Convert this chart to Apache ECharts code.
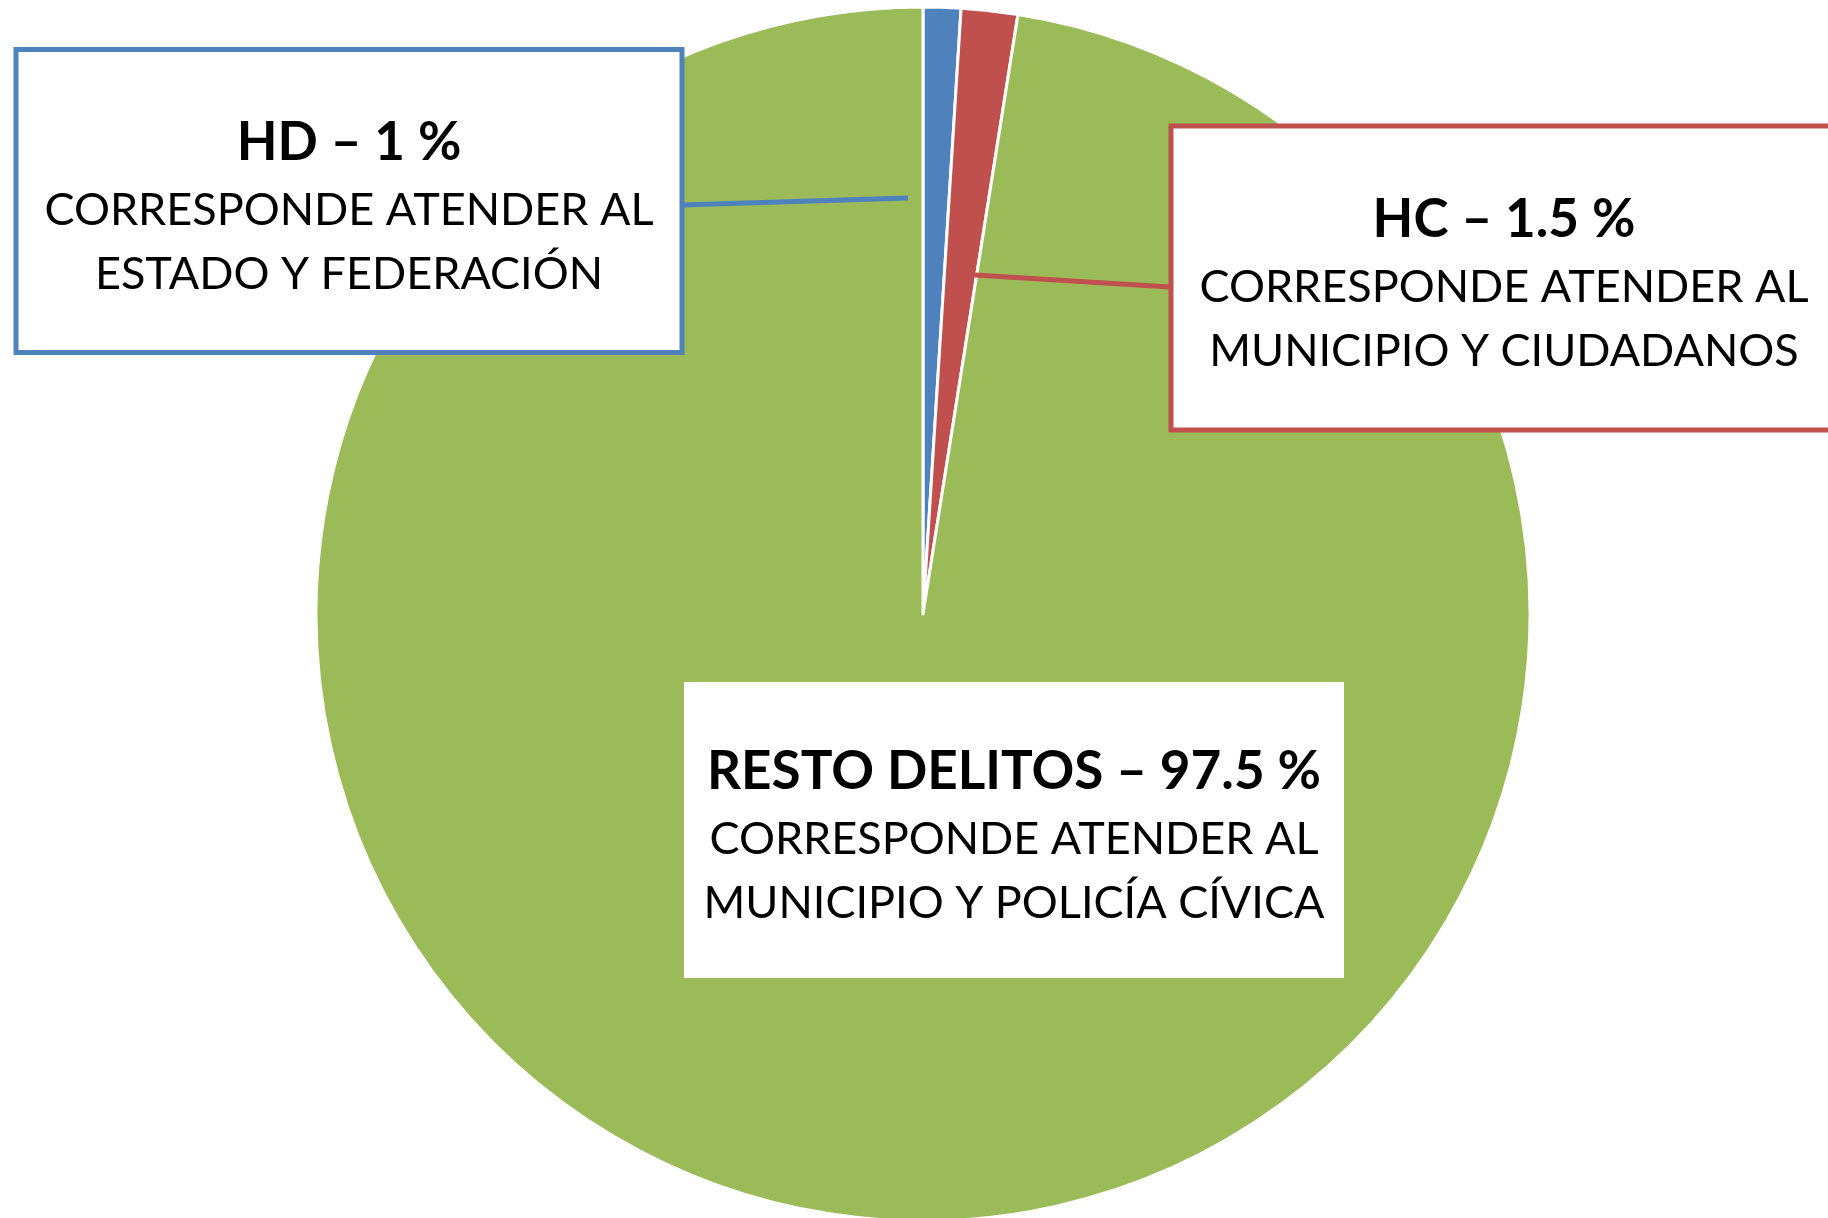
<!DOCTYPE html>
<html><head><meta charset="utf-8">
<script src="https://cdn.jsdelivr.net/npm/echarts@6/dist/echarts.min.js"></script>
<style>html,body{margin:0;padding:0;background:#fff}#c{width:1828px;height:1218px}</style>
</head><body><div id="c"></div>
<script>
const categories = ['HD', 'HC', 'RESTO DELITOS'];
const values = [1, 1.5, 97.5];
const descLine1 = ['CORRESPONDE ATENDER AL', 'CORRESPONDE ATENDER AL', 'CORRESPONDE ATENDER AL'];
const descLine2 = ['ESTADO Y FEDERACIÓN', 'MUNICIPIO Y CIUDADANOS', 'MUNICIPIO Y POLICÍA CÍVICA'];
const colors = ['#4F81BD', '#C0504D', '#9BBB59'];

// annotation box layout (pixel positions of the callout boxes and their leader lines)
const boxes = [
  {cx: 349, cy: 201, w: 666, h: 303, border: 5, line: [[908, 198], [682, 205]]},
  {cx: 1504, cy: 278, w: 666, h: 304, border: 5, line: [[975, 275], [1170, 287]]},
  {cx: 1014, cy: 830, w: 660, h: 296, border: 0, line: null}
];
const contentH = 70 + 64 + 64;

const chart = echarts.init(document.getElementById('c'), null, {renderer: 'canvas'});
const data = categories.map((name, i) => {
  const b = boxes[i];
  const padY = (b.h - contentH) / 2 - b.border / 2;
  return {
    name: name,
    value: values[i],
    itemStyle: {color: colors[i]},
    label: {
      borderColor: colors[i],
      borderWidth: b.border,
      padding: [padY + 6, 10, padY - 6, 10],
      width: b.w - 20 - b.border
    }
  };
});

const graphics = boxes.filter(b => b.line).map(b => ({
  type: 'polyline',
  z: 3,
  silent: true,
  shape: {points: b.line},
  style: {stroke: colors[boxes.indexOf(b)], lineWidth: 5, fill: null}
}));

chart.setOption({
  backgroundColor: '#ffffff',
  animation: false,
  graphic: graphics,
  series: [{
    type: 'pie',
    z: 2,
    center: [923, 614],
    radius: 607,
    startAngle: 90,
    clockwise: true,
    avoidLabelOverlap: false,
    itemStyle: {borderColor: '#ffffff', borderWidth: 3},
    emphasis: {disabled: true},
    label: {
      show: true,
      position: 'outside',
      backgroundColor: '#ffffff',
      align: 'center',
      overflow: 'none',
      formatter: p => '{t|' + p.name + ' – ' + p.value + ' %}\n{s|' + descLine1[p.dataIndex] + '}\n{s|' + descLine2[p.dataIndex] + '}',
      rich: {
        t: {fontFamily: 'Lato', fontWeight: 'bold', fontSize: 53, lineHeight: 70, color: '#000', align: 'center'},
        s: {fontFamily: 'Lato', fontSize: 45, lineHeight: 64, color: '#000', align: 'center'}
      }
    },
    labelLine: {show: false},
    labelLayout: function (params) {
      const b = boxes[params.dataIndex];
      return {x: b.cx, y: b.cy, align: 'center', verticalAlign: 'middle'};
    },
    data: data
  }]
});
</script>
</body></html>
